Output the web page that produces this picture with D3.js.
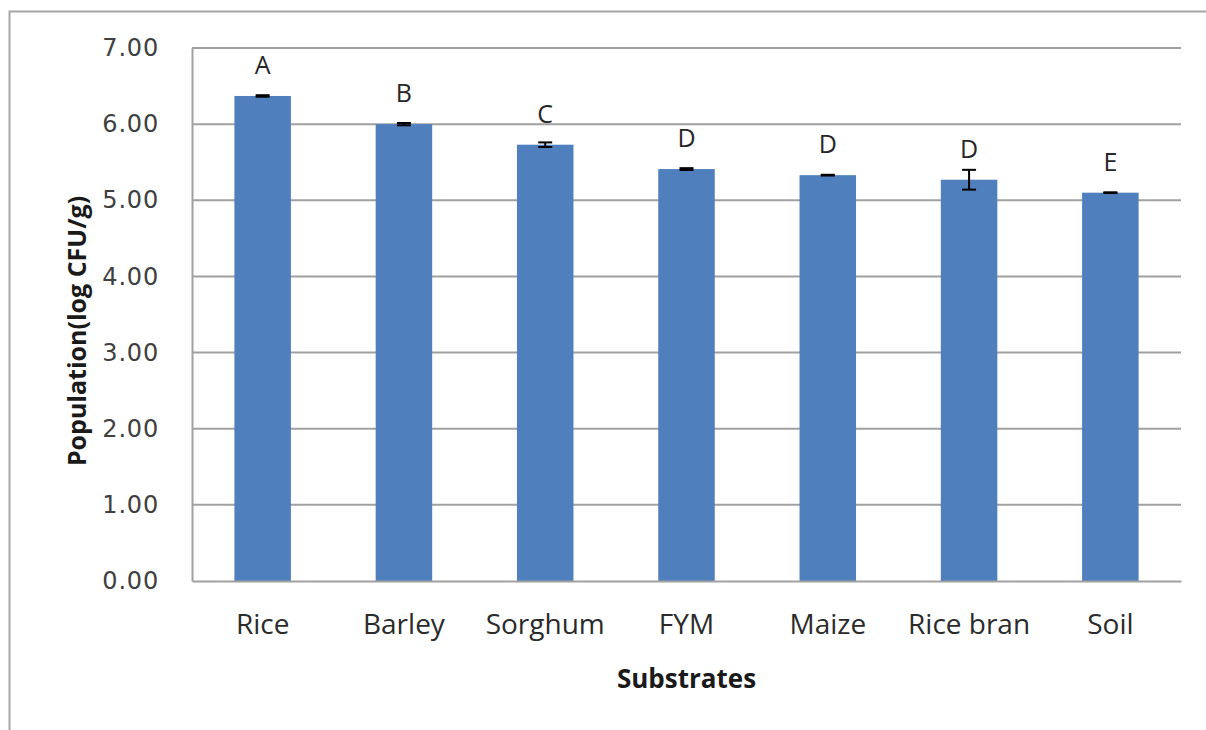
<!DOCTYPE html>
<html>
<head>
<meta charset="utf-8">
<script src="https://cdn.jsdelivr.net/npm/d3@7"></script>
<style>
  html, body { margin: 0; padding: 0; background: #fff; }
  svg { display: block; }
</style>
</head>
<body>
<svg id="chart" width="1206" height="730"></svg>
<script>
const categories = ["Rice", "Barley", "Sorghum", "FYM", "Maize", "Rice bran", "Soil"];
const values = [6.37, 6.00, 5.73, 5.41, 5.33, 5.27, 5.10];
const errors = [0.01, 0.015, 0.03, 0.012, 0.005, 0.13, 0.005];
const letters = ["A", "B", "C", "D", "D", "D", "E"];
const yTicks = [0, 1, 2, 3, 4, 5, 6, 7];

const svg = d3.select("#chart");
const plot = { left: 192, right: 1181, top: 48, bottom: 581 };

// outer frame
svg.append("rect")
  .attr("x", 9.5).attr("y", 11.5)
  .attr("width", 1300).attr("height", 1000)
  .attr("fill", "none").attr("stroke", "#a6a6a6").attr("stroke-width", 2);

const x = d3.scaleBand().domain(categories)
  .range([plot.left, plot.right]).paddingInner(0.6).paddingOuter(0.3);
const y = d3.scaleLinear().domain([0, 7]).range([plot.bottom, plot.top]);

// gridlines
svg.append("g").selectAll("line").data(yTicks.slice(1)).join("line")
  .attr("x1", plot.left).attr("x2", plot.right)
  .attr("y1", d => y(d)).attr("y2", d => y(d))
  .attr("stroke", "#a0a0a0").attr("stroke-width", 2);

// y axis
const yAxis = d3.axisLeft(y).tickValues(yTicks).tickFormat(d3.format(".2f")).tickSize(0).tickPadding(33);
const gy = svg.append("g").attr("transform", `translate(${plot.left},0)`).call(yAxis);
gy.select(".domain").attr("stroke", "#a0a0a0").attr("stroke-width", 2);
gy.selectAll("text").attr("font-family", "'DejaVu Sans', sans-serif")
  .attr("font-size", 24).attr("letter-spacing", 0.8).attr("fill", "#404040");

// bars
svg.append("g").selectAll("rect").data(categories).join("rect")
  .attr("x", d => x(d)).attr("width", x.bandwidth())
  .attr("y", (d, i) => y(values[i]))
  .attr("height", (d, i) => y(0) - y(values[i]))
  .attr("fill", "#4f7fbd");

// x axis
const xAxis = d3.axisBottom(x).tickSize(0).tickPadding(33);
const gx = svg.append("g").attr("transform", `translate(0,${plot.bottom})`).call(xAxis);
gx.select(".domain").attr("stroke", "#a0a0a0").attr("stroke-width", 2);
gx.selectAll("text").attr("font-family", "'Open Sans', sans-serif")
  .attr("font-size", 28).attr("fill", "#2b2b2b");

// error bars
const eg = svg.append("g").attr("stroke", "#000").attr("stroke-width", 2);
categories.forEach((c, i) => {
  const cx = x(c) + x.bandwidth() / 2;
  const y1 = y(values[i] + errors[i]), y2 = y(values[i] - errors[i]);
  eg.append("line").attr("x1", cx).attr("x2", cx).attr("y1", y1).attr("y2", y2);
  eg.append("line").attr("x1", cx - 7).attr("x2", cx + 7).attr("y1", y1).attr("y2", y1);
  eg.append("line").attr("x1", cx - 7).attr("x2", cx + 7).attr("y1", y2).attr("y2", y2);
});

// significance letters
svg.append("g").selectAll("text").data(categories).join("text")
  .attr("x", d => x(d) + x.bandwidth() / 2)
  .attr("y", (d, i) => y(values[i]) - 32)
  .attr("text-anchor", "middle").attr("dominant-baseline", "central")
  .attr("font-family", "'Open Sans', sans-serif").attr("font-size", 25)
  .attr("fill", "#262626")
  .text((d, i) => letters[i]);

// axis titles
svg.append("text")
  .attr("x", (plot.left + plot.right) / 2).attr("y", 678)
  .attr("text-anchor", "middle").attr("dominant-baseline", "central")
  .attr("font-family", "'Open Sans', sans-serif").attr("font-weight", "bold")
  .attr("font-size", 26).attr("fill", "#1a1a1a")
  .text("Substrates");

svg.append("text")
  .attr("transform", "translate(76,331) rotate(-90)")
  .attr("text-anchor", "middle").attr("dominant-baseline", "central")
  .attr("font-family", "'Open Sans', sans-serif").attr("font-weight", "bold")
  .attr("font-size", 25).attr("fill", "#1a1a1a")
  .text("Population(log  CFU/g)");
</script>
</body>
</html>
